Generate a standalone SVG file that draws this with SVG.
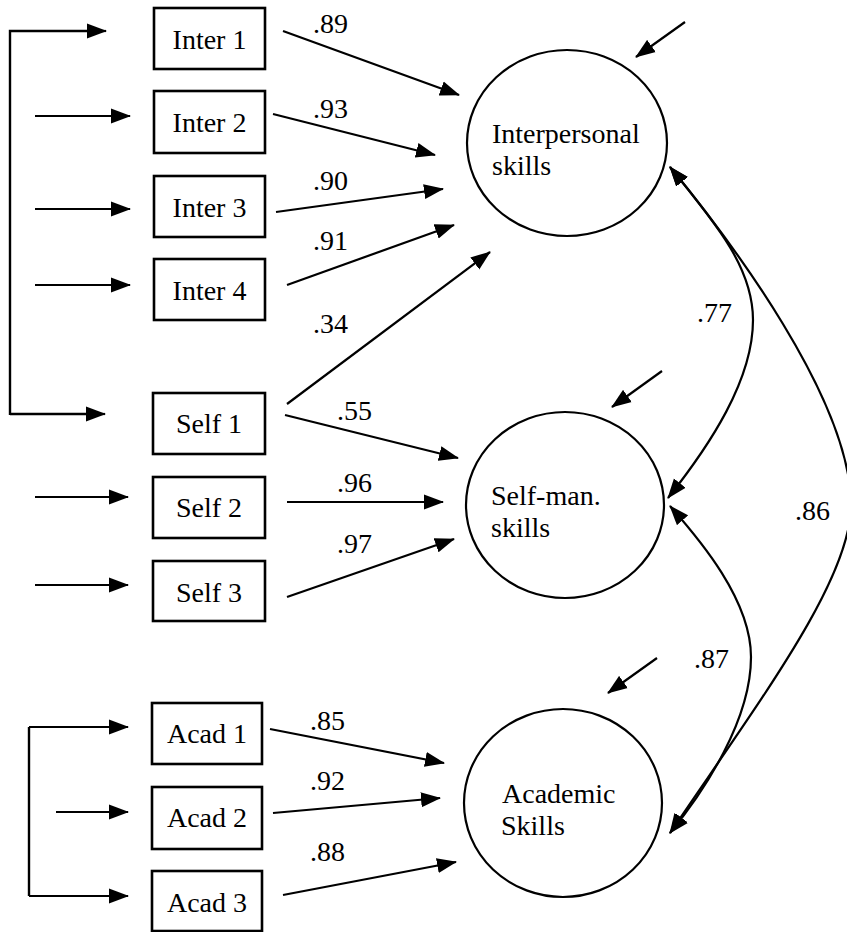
<svg xmlns="http://www.w3.org/2000/svg" width="847" height="932" viewBox="0 0 847 932">
<style>
.box{fill:#fff;stroke:#000;stroke-width:2.6}
.lat{fill:none;stroke:#000;stroke-width:2.2}
.t{font-family:'Liberation Serif','DejaVu Serif',serif;font-size:28px;fill:#000}
.c{text-anchor:middle}
.ln{fill:none;stroke:#000;stroke-width:2.2;marker-end:url(#ah)}
.br{fill:none;stroke:#000;stroke-width:2.4}
.cv{fill:none;stroke:#000;stroke-width:2.2;marker-start:url(#ah);marker-end:url(#ah)}
</style>
<defs>
<marker id="ah" markerUnits="userSpaceOnUse" markerWidth="20" markerHeight="16" refX="19" refY="8" orient="auto-start-reverse">
<path d="M0,0.5 L20,8 L0,15.5 z" fill="#000"/>
</marker>
</defs>
<rect width="847" height="932" fill="#fff"/>

<g id="connectors">
<path class="br" d="M10,415 V31 H92"/>
<path class="ln" d="M90,31 H106"/>
<path class="br" d="M10,414 H92"/>
<path class="ln" d="M90,414 H105"/>
<path class="ln" d="M35,116 H130"/>
<path class="ln" d="M35,209 H130"/>
<path class="ln" d="M35,285 H130"/>
<path class="ln" d="M35,497 H128"/>
<path class="ln" d="M35,585 H128"/>
<path class="br" d="M29,727 V896"/>
<path class="ln" d="M29,727 H128"/>
<path class="ln" d="M29,896 H128"/>
<path class="ln" d="M56,812 H128"/>
<path class="ln" d="M283,31 L459,95"/>
<path class="ln" d="M273,114 L435,155"/>
<path class="ln" d="M276,212 L443,189"/>
<path class="ln" d="M287,285 L454,225"/>
<path class="ln" d="M287,404 L490,252"/>
<path class="ln" d="M285,415 L458,458"/>
<path class="ln" d="M287,502 L443,502"/>
<path class="ln" d="M287,597 L454,539"/>
<path class="ln" d="M270,729 L444,763"/>
<path class="ln" d="M273,813 L440,798"/>
<path class="ln" d="M283,895 L456,862"/>
<path class="ln" d="M685,22 L636,57"/>
<path class="ln" d="M662,371 L612,407"/>
<path class="ln" d="M657,658 L608,693"/>
<path class="cv" d="M670,167 C720,228 753,270 753,320 C753,380 710,445 668,498"/>
<path class="cv" d="M670,167 C730,240 851,400 851,505 C851,580 760,700 670,833"/>
<path class="cv" d="M670,506 C700,540 751,600 751,657 C751,720 705,790 670,833"/>
</g>

<g id="labels">
<text class="t" x="313" y="33">.89</text>
<text class="t" x="313" y="118">.93</text>
<text class="t" x="313" y="190">.90</text>
<text class="t" x="313" y="250">.91</text>
<text class="t" x="313" y="333">.34</text>
<text class="t" x="337" y="420">.55</text>
<text class="t" x="337" y="492">.96</text>
<text class="t" x="337" y="553">.97</text>
<text class="t" x="310" y="730">.85</text>
<text class="t" x="310" y="790">.92</text>
<text class="t" x="310" y="861">.88</text>
<text class="t" x="697" y="322">.77</text>
<text class="t" x="795" y="520">.86</text>
<text class="t" x="694" y="668">.87</text>
</g>

<g id="inter1"><rect class="box" x="154" y="8" width="111" height="61"/><text class="t c" x="209.5" y="49">Inter 1</text></g>
<g id="inter2"><rect class="box" x="154" y="91" width="111" height="62"/><text class="t c" x="209.5" y="132">Inter 2</text></g>
<g id="inter3"><rect class="box" x="154" y="176" width="111" height="61"/><text class="t c" x="209.5" y="217">Inter 3</text></g>
<g id="inter4"><rect class="box" x="154" y="259" width="111" height="61"/><text class="t c" x="209.5" y="300">Inter 4</text></g>
<g id="self1"><rect class="box" x="153" y="393" width="112" height="61"/><text class="t c" x="209" y="433">Self 1</text></g>
<g id="self2"><rect class="box" x="153" y="477" width="112" height="61"/><text class="t c" x="209" y="517">Self 2</text></g>
<g id="self3"><rect class="box" x="153" y="561" width="112" height="60"/><text class="t c" x="209" y="602">Self 3</text></g>
<g id="acad1"><rect class="box" x="152" y="703" width="110" height="61"/><text class="t c" x="207" y="743">Acad 1</text></g>
<g id="acad2"><rect class="box" x="152" y="787" width="110" height="62"/><text class="t c" x="207" y="827">Acad 2</text></g>
<g id="acad3"><rect class="box" x="152" y="871" width="110" height="60"/><text class="t c" x="207" y="912">Acad 3</text></g>

<g id="interpersonal"><ellipse class="lat" cx="567" cy="143" rx="100" ry="93"/><text class="t" x="492" y="143">Interpersonal</text><text class="t" x="492" y="175">skills</text></g>
<g id="selfman"><ellipse class="lat" cx="565" cy="505" rx="99" ry="93"/><text class="t" x="491" y="505">Self-man.</text><text class="t" x="491" y="537">skills</text></g>
<g id="academic"><ellipse class="lat" cx="563" cy="803" rx="99" ry="94"/><text class="t" x="502" y="803">Academic</text><text class="t" x="501" y="835">Skills</text></g>
</svg>
